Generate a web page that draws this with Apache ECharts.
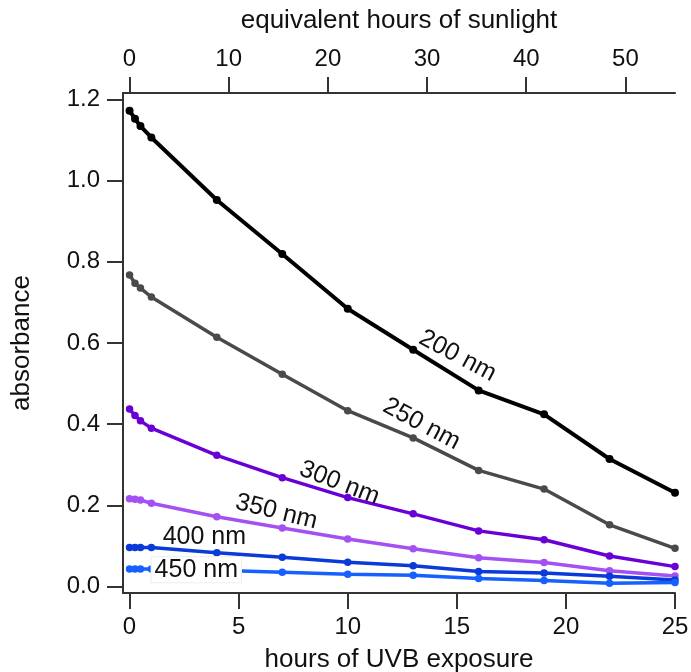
<!DOCTYPE html>
<html>
<head>
<meta charset="utf-8">
<script src="https://cdn.jsdelivr.net/npm/echarts@6/dist/echarts.min.js"></script>
<style>
html,body{margin:0;padding:0;background:#fff;}
#chart{width:691px;height:672px;}
</style>
</head>
<body>
<div id="chart"></div>
<script>
// ---- data ----
var hours = [0, 0.25, 0.5, 1, 4, 7, 10, 13, 16, 19, 22, 25];
var seriesNames = ['200 nm', '250 nm', '300 nm', '350 nm', '400 nm', '450 nm'];
var abs200 = [1.172, 1.152, 1.134, 1.106, 0.952, 0.819, 0.684, 0.583, 0.483, 0.424, 0.314, 0.231];
var abs250 = [0.767, 0.747, 0.735, 0.713, 0.614, 0.523, 0.433, 0.366, 0.286, 0.240, 0.152, 0.094];
var abs300 = [0.437, 0.421, 0.408, 0.390, 0.323, 0.268, 0.219, 0.179, 0.137, 0.115, 0.075, 0.049];
var abs350 = [0.216, 0.215, 0.213, 0.205, 0.172, 0.144, 0.117, 0.093, 0.071, 0.059, 0.039, 0.026];
var abs400 = [0.096, 0.096, 0.096, 0.096, 0.083, 0.072, 0.060, 0.051, 0.037, 0.033, 0.025, 0.016];
var abs450 = [0.043, 0.043, 0.043, 0.043, 0.040, 0.035, 0.030, 0.028, 0.020, 0.015, 0.008, 0.010];
var bottomTicks = [0, 5, 10, 15, 20, 25];
var topTicks = [0, 10, 20, 30, 40, 50];
var yTicks = [0, 0.2, 0.4, 0.6, 0.8, 1.0, 1.2];
var sunlightPerUVB = 2.2;
// label anchors (data coords) and rotation in degrees (negative = clockwise)
var labelX = [15.03, 13.38, 9.62, 6.73, 3.43, 3.06];
var labelY = [0.568, 0.400, 0.255, 0.184, 0.122, 0.041];
var labelRot = [-28, -28, -21, -14, 0, 0];

var allValues = [abs200, abs250, abs300, abs350, abs400, abs450];
var colors = ['#000000', '#4a4a4a', '#6a00d6', '#a450f2', '#0a3ad8', '#1560ff'];
var widths = [4, 3.5, 3.5, 3.5, 3.5, 3.5];

var FONT = '"Liberation Sans", Arial, Helvetica, sans-serif';
var TXT = '#111';
var AX = '#333';

var chart = echarts.init(document.getElementById('chart'), null, {renderer: 'canvas'});

var xMin = -0.3, xMax = 25;
var series = allValues.map(function (vals, i) {
  return {
    name: seriesNames[i],
    type: 'line',
    xAxisIndex: 0,
    yAxisIndex: 0,
    data: hours.map(function (h, j) { return [h, vals[j]]; }),
    symbol: 'circle',
    symbolSize: i === 0 ? 8 : 7.5,
    showSymbol: true,
    lineStyle: {color: colors[i], width: widths[i]},
    itemStyle: {color: colors[i]},
    z: 2 + i,
    animation: false
  };
});

var axisCommon = {
  type: 'value',
  axisLine: {show: true, onZero: false, lineStyle: {color: AX, width: 2}},
  axisTick: {show: true, inside: false, length: 16, lineStyle: {color: AX, width: 2}},
  splitLine: {show: false},
  axisLabel: {color: TXT, fontFamily: FONT, fontSize: 24},
  nameTextStyle: {color: TXT, fontFamily: FONT, fontSize: 26}
};

chart.setOption({
  animation: false,
  backgroundColor: '#fff',
  grid: {left: 123, right: 16, top: 93, bottom: 79, containLabel: false, outerBoundsMode: 'none'},
  xAxis: [
    Object.assign({}, axisCommon, {
      position: 'bottom',
      min: xMin, max: xMax,
      name: 'hours of UVB exposure',
      nameLocation: 'middle',
      nameGap: 54,
      axisTick: Object.assign({}, axisCommon.axisTick, {customValues: bottomTicks}),
      axisLabel: Object.assign({}, axisCommon.axisLabel, {customValues: bottomTicks, margin: 22})
    }),
    Object.assign({}, axisCommon, {
      position: 'top',
      min: xMin * sunlightPerUVB, max: xMax * sunlightPerUVB,
      name: 'equivalent hours of sunlight',
      nameLocation: 'middle',
      nameGap: 59,
      axisTick: Object.assign({}, axisCommon.axisTick, {customValues: topTicks}),
      axisLabel: Object.assign({}, axisCommon.axisLabel, {customValues: topTicks, margin: 22})
    })
  ],
  yAxis: [
    Object.assign({}, axisCommon, {
      position: 'left',
      min: -0.016, max: 1.2155,
      name: 'absorbance',
      nameLocation: 'middle',
      nameGap: 88,
      nameRotate: 90,
      axisTick: Object.assign({}, axisCommon.axisTick, {customValues: yTicks}),
      axisLabel: Object.assign({}, axisCommon.axisLabel, {
        customValues: yTicks, margin: 23,
        formatter: function (v) { return v.toFixed(1); }
      })
    })
  ],
  series: series
});

var graphics = seriesNames.map(function (name, i) {
  var p = chart.convertToPixel({xAxisIndex: 0, yAxisIndex: 0}, [labelX[i], labelY[i]]);
  var style = {
    text: name,
    fill: TXT,
    font: '25px ' + FONT,
    align: 'center',
    verticalAlign: 'middle'
  };
  if (i === 5) {
    style.backgroundColor = '#fff';
    style.borderColor = '#eeeeee';
    style.borderWidth = 1;
    style.padding = [0, 3, 0, 3];
  }
  return {
    type: 'text',
    x: p[0], y: p[1],
    rotation: labelRot[i] * Math.PI / 180,
    style: style,
    z: 100
  };
});
chart.setOption({graphic: graphics});
</script>
</body>
</html>
